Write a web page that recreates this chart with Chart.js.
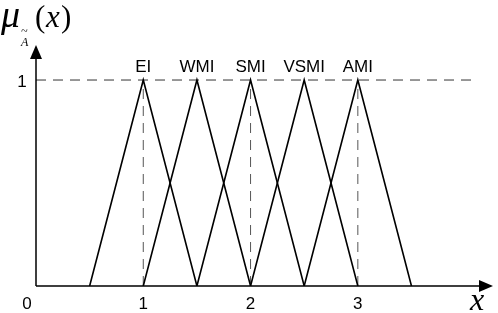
<!DOCTYPE html>
<html>
<head>
<meta charset="utf-8">
<script src="https://cdn.jsdelivr.net/npm/chart.js@4.4.1/dist/chart.umd.min.js"></script>
<style>
  html, body { margin: 0; padding: 0; background: #fff; }
  #wrap { width: 498px; height: 313px; }
</style>
</head>
<body>
<div id="wrap"><canvas id="chart"></canvas></div>
<script>
// membership functions (triangles), x positions of corners and heights
const setNames = ['EI', 'WMI', 'SMI', 'VSMI', 'AMI'];
const triangleX = [
    [0.5, 1, 1.5],
    [1, 1.5, 2],
    [1.5, 2, 2.5],
    [2, 2.5, 3],
    [2.5, 3, 3.5]
];
const triangleY = [0, 1, 0];
const xTicks = [0, 1, 2, 3];
const yTicks = [1];
const guideX = [1, 2, 3];      // dashed verticals
const guideTopEnd = 4.11;      // dashed line at mu = 1 runs to here
const xMax = 4.26;
const yMax = 1.17;

const datasets = [];
triangleX.forEach((xs, i) => {
    datasets.push({
        label: setNames[i],
        data: xs.map((x, j) => ({ x: x, y: triangleY[j] })),
        borderColor: '#000',
        borderWidth: 1.6,
        pointRadius: 0,
        tension: 0
    });
});
// dashed guides
datasets.push({
    label: 'top',
    data: [{ x: 0, y: 1 }, { x: guideTopEnd, y: 1 }],
    borderColor: '#333',
    borderWidth: 1,
    borderDash: [10, 7],
    pointRadius: 0
});
guideX.forEach(gx => {
    datasets.push({
        label: 'v' + gx,
        data: [{ x: gx, y: 0 }, { x: gx, y: 1 }],
        borderColor: '#555',
        borderWidth: 1,
        borderDash: [10, 7],
        pointRadius: 0
    });
});

const axesPlugin = {
    id: 'axesPlugin',
    afterDraw(chart) {
        const ctx = chart.ctx;
        const xs = chart.scales.x, ys = chart.scales.y;
        const x0 = xs.getPixelForValue(0), y0 = ys.getPixelForValue(0);
        const xEnd = xs.getPixelForValue(xMax), yEnd = ys.getPixelForValue(yMax);
        ctx.save();
        ctx.strokeStyle = '#000';
        ctx.fillStyle = '#000';
        ctx.lineWidth = 1.5;
        ctx.beginPath();
        ctx.moveTo(x0, y0); ctx.lineTo(xEnd - 8, y0);
        ctx.moveTo(x0, y0); ctx.lineTo(x0, yEnd + 8);
        ctx.stroke();
        // arrow heads
        ctx.beginPath();
        ctx.moveTo(xEnd, y0); ctx.lineTo(xEnd - 14, y0 - 6); ctx.lineTo(xEnd - 14, y0 + 6); ctx.closePath();
        ctx.fill();
        ctx.beginPath();
        ctx.moveTo(x0, yEnd); ctx.lineTo(x0 - 6, yEnd + 14); ctx.lineTo(x0 + 6, yEnd + 14); ctx.closePath();
        ctx.fill();

        // tick labels
        ctx.font = '17px "Liberation Sans", Arial, sans-serif';
        ctx.textAlign = 'center';
        ctx.textBaseline = 'middle';
        xTicks.forEach(t => {
            let px = xs.getPixelForValue(t);
            if (t === 0) px -= 9;
            ctx.fillText(String(t), px, y0 + 18);
        });
        yTicks.forEach(t => {
            ctx.fillText(String(t), x0 - 14, ys.getPixelForValue(t) + 2);
        });

        // set names above peaks
        ctx.font = '17px "Liberation Sans", Arial, sans-serif';
        ctx.textBaseline = 'alphabetic';
        triangleX.forEach((xsArr, i) => {
            ctx.fillText(setNames[i], xs.getPixelForValue(xsArr[1]), ys.getPixelForValue(1) - 8);
        });

        // axis titles
        ctx.font = 'italic 32px "Liberation Serif", "Times New Roman", serif';
        ctx.textAlign = 'left';
        ctx.fillText('x', xEnd - 23, y0 + 24);

        ctx.font = 'italic 38px "Liberation Serif", "Times New Roman", serif';
        ctx.fillText('\u03bc', 1, 27);
        ctx.font = '31px "Liberation Serif", "Times New Roman", serif';
        ctx.fillText('(', 35, 27);
        ctx.font = 'italic 31px "Liberation Serif", "Times New Roman", serif';
        ctx.fillText('x', 46, 27);
        ctx.font = '31px "Liberation Serif", "Times New Roman", serif';
        ctx.fillText(')', 61, 27);
        ctx.font = 'italic 12px "Liberation Serif", "Times New Roman", serif';
        ctx.fillText('A', 21, 46);
        ctx.fillText('~', 21, 35);
        ctx.restore();
    }
};

new Chart(document.getElementById('chart'), {
    type: 'line',
    data: { datasets: datasets },
    options: {
        responsive: true,
        maintainAspectRatio: false,
        animation: false,
        layout: { padding: { left: 36, right: 5, top: 45, bottom: 27 } },
        plugins: { legend: { display: false }, tooltip: { enabled: false } },
        scales: {
            x: { type: 'linear', min: 0, max: xMax, display: false },
            y: { type: 'linear', min: 0, max: yMax, display: false }
        }
    },
    plugins: [axesPlugin]
});
</script>
</body>
</html>
